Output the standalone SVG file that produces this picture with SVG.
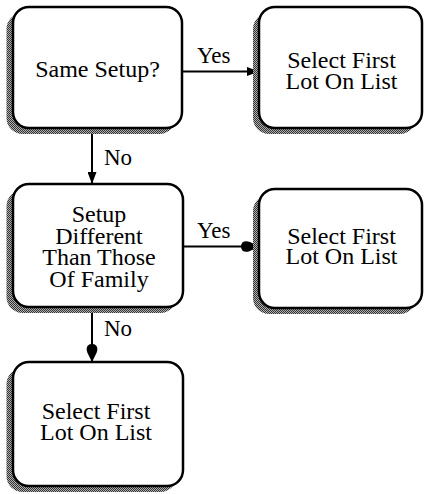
<svg xmlns="http://www.w3.org/2000/svg" width="424" height="494" viewBox="0 0 424 494">
  <defs>
    <pattern id="dither" width="2" height="2" patternUnits="userSpaceOnUse">
      <rect width="2" height="2" fill="#b0b0b0"/>
      <rect x="0" y="0" width="1" height="1" fill="#333"/>
      <rect x="1" y="1" width="1" height="1" fill="#333"/>
    </pattern>
    <marker id="tri" markerUnits="userSpaceOnUse" markerWidth="12" markerHeight="9" refX="12" refY="4.5" orient="auto">
      <path d="M0,0 L12,4.5 L0,9 Z" fill="#000"/>
    </marker>
    <marker id="blob" markerUnits="userSpaceOnUse" markerWidth="18" markerHeight="13" refX="18" refY="6.5" orient="auto">
      <path d="M18,6.5 L9,2 C4,0 0,1.5 0,6.5 C0,11.5 4,13 9,11 Z" fill="#000"/>
    </marker>
  </defs>
  <style>
    .shadow { fill: url(#dither); stroke: none; }
    .box { fill: #fff; stroke: #000; stroke-width: 2.5; }
    .t { font-family: "Liberation Serif", "Times New Roman", Times, "DejaVu Serif", serif; font-size: 24px; fill: #000; text-anchor: middle; }
    .lbl { font-family: "Liberation Serif", "Times New Roman", Times, "DejaVu Serif", serif; font-size: 23px; fill: #000; }
    .edge { stroke: #000; stroke-width: 2; fill: none; }
  </style>
  <rect width="424" height="494" fill="#fff"/>

  <g id="connectors">
    <line class="edge" x1="182" y1="71.5" x2="259" y2="71.5" marker-end="url(#tri)"/>
    <text class="lbl" x="197" y="63" font-family="Liberation Serif, serif">Yes</text>
    <line class="edge" x1="92" y1="128" x2="92" y2="184" marker-end="url(#tri)"/>
    <text class="lbl" x="104" y="165" font-family="Liberation Serif, serif">No</text>
    <line class="edge" x1="183" y1="246.5" x2="259" y2="246.5" marker-end="url(#blob)"/>
    <text class="lbl" x="197" y="238" font-family="Liberation Serif, serif">Yes</text>
    <line class="edge" x1="92" y1="307" x2="92" y2="362" marker-end="url(#blob)"/>
    <text class="lbl" x="104" y="336" font-family="Liberation Serif, serif">No</text>
  </g>

  <g id="same-setup">
    <rect class="shadow" x="6.5" y="13" width="169" height="121" rx="16"/>
    <rect class="box" x="13" y="7" width="169" height="121" rx="16"/>
    <text class="t" x="97.5" y="77">Same Setup?</text>
  </g>

  <g id="select-1">
    <rect class="shadow" x="253" y="13" width="163" height="121" rx="16"/>
    <rect class="box" x="259" y="7" width="163" height="121" rx="16"/>
    <text class="t" x="341.5" y="68">Select First</text>
    <text class="t" x="341.5" y="88.5">Lot On List</text>
  </g>

  <g id="setup-different">
    <rect class="shadow" x="6.5" y="190" width="170" height="123" rx="16"/>
    <rect class="box" x="13" y="184" width="170" height="123" rx="16"/>
    <text class="t" x="99" y="222">Setup</text>
    <text class="t" x="99" y="243.5">Different</text>
    <text class="t" x="99" y="265">Than Those</text>
    <text class="t" x="99" y="286.5">Of Family</text>
  </g>

  <g id="select-2">
    <rect class="shadow" x="253" y="195" width="163" height="119" rx="16"/>
    <rect class="box" x="259" y="189" width="163" height="119" rx="16"/>
    <text class="t" x="341.5" y="243.5">Select First</text>
    <text class="t" x="341.5" y="264">Lot On List</text>
  </g>

  <g id="select-3">
    <rect class="shadow" x="6.5" y="368" width="170" height="124" rx="16"/>
    <rect class="box" x="13" y="362" width="170" height="124" rx="16"/>
    <text class="t" x="96" y="418.5">Select First</text>
    <text class="t" x="96" y="440">Lot On List</text>
  </g>
</svg>
